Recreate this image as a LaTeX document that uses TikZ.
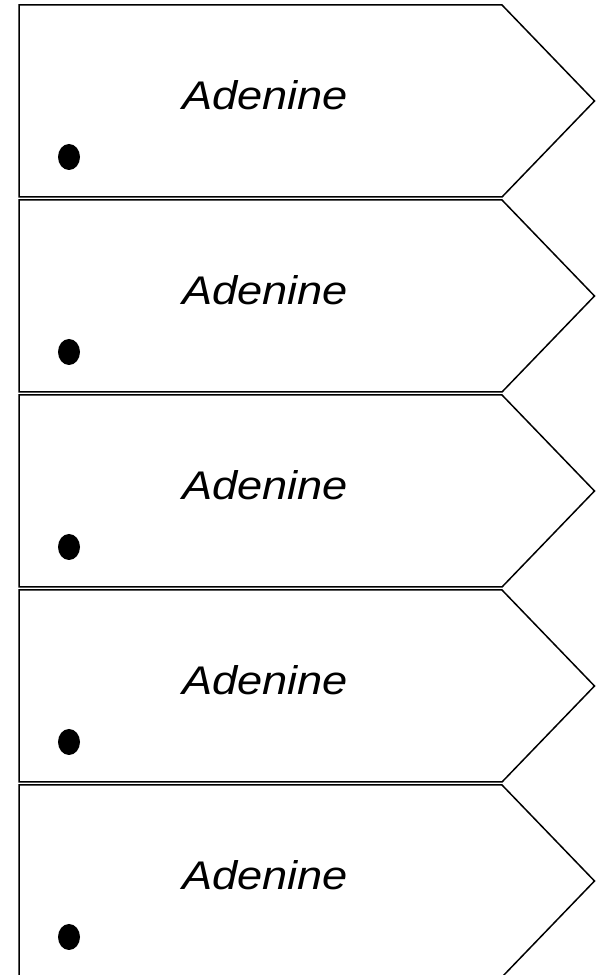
\documentclass[tikz,border=0pt]{standalone}
\usepackage{fontspec}
\setmainfont{Liberation Sans}
\begin{document}
\begin{tikzpicture}[x=1pt,y=1pt,
  tag/.style={draw=black,line width=1.5pt,line join=miter},
  lbl/.style={font=\fontsize{40}{48}\selectfont\itshape,inner sep=0pt,anchor=base,xscale=1.13,transform shape},
  dotmark/.style={fill=black,draw=none}]
\useasboundingbox (0,0) rectangle (596,975);
\foreach \i in {0,...,4}{
  \pgfmathsetmacro{\t}{975-5-195*\i}
  \pgfmathsetmacro{\b}{\t-192}
  \pgfmathsetmacro{\m}{\t-96}
  \draw[tag] (19,\t) -- (502,\t) -- (594.5,\m) -- (502,\b) -- (19,\b) -- cycle;
  \node[lbl] (name\i) at (265,\t-105) {Adenine};
  \fill[dotmark] (69,\t-152) ellipse [x radius=11, y radius=13];
  \coordinate (dot\i) at (69,\t-152);
}
\end{tikzpicture}
\end{document}
